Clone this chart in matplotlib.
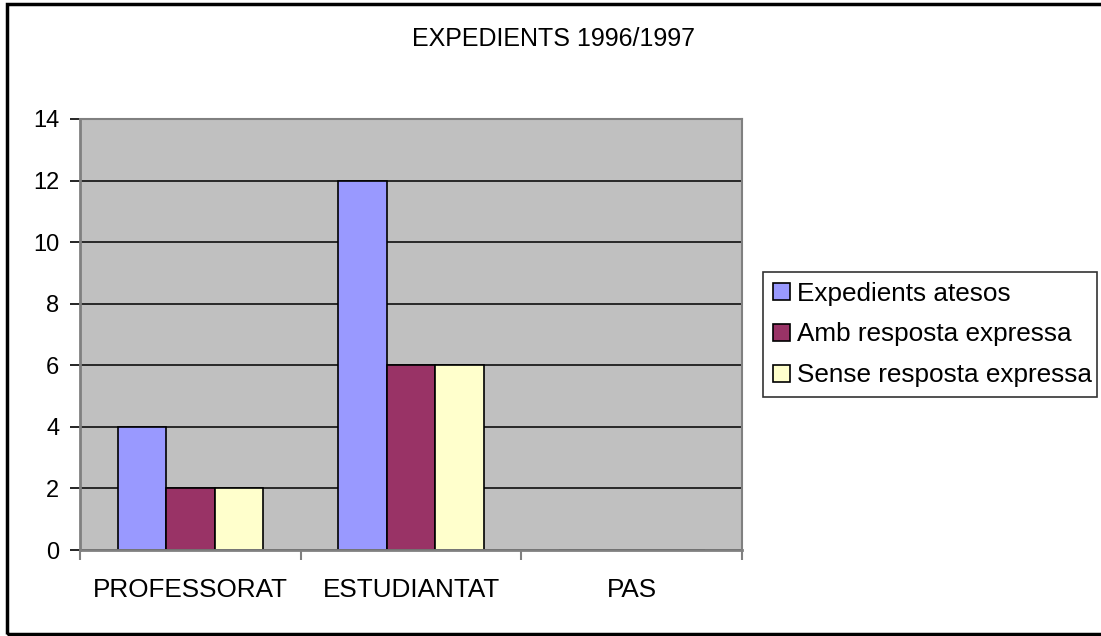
import numpy as np
import matplotlib.pyplot as plt
from matplotlib.patches import Rectangle

# dades del gràfic
categories = ['PROFESSORAT', 'ESTUDIANTAT', 'PAS']
series_names = ['Expedients atesos', 'Amb resposta expressa', 'Sense resposta expressa']
atesos = [4, 12, 0]
amb_resposta = [2, 6, 0]
sense_resposta = [2, 6, 0]
colors = ['#9999FF', '#993366', '#FFFFCC']
title = 'EXPEDIENTS 1996/1997'

plt.rcParams['font.family'] = ['Liberation Sans', 'DejaVu Sans']

fig = plt.figure(figsize=(11.01, 6.36), dpi=100)
ax = fig.add_axes([0.0727, 0.1352, 0.6013, 0.6777])
ax.set_facecolor('#C0C0C0')

x = np.arange(len(categories))
w = 0.22
for i, (vals, name) in enumerate(zip([atesos, amb_resposta, sense_resposta], series_names)):
    ax.bar(x + (i - 1) * w, vals, width=w, color=colors[i], edgecolor='black',
           linewidth=1.2, label=name, zorder=2)

ax.set_xlim(-0.5, 2.5)
ax.set_ylim(0, 14)
ax.set_yticks(np.arange(0, 15, 2))
ax.yaxis.grid(True, color='black', linewidth=1.1, zorder=1)
ax.set_axisbelow(True)

# ticks de categories: marques a les vores, etiquetes al centre
ax.set_xticks([-0.5, 0.5, 1.5, 2.5])
ax.set_xticklabels([])
ax.set_xticks(x, minor=True)
ax.set_xticklabels(categories, minor=True)
ax.tick_params(axis='x', which='major', length=7, width=1.5, color='#808080', direction='out')
ax.tick_params(axis='x', which='minor', length=0, pad=20.5, labelsize=18.8)
ax.tick_params(axis='y', length=7, width=1.2, color='black', pad=8, labelsize=17)

for side in ['left', 'bottom']:
    ax.spines[side].set_color('#808080')
    ax.spines[side].set_linewidth(2)
    ax.spines[side].set_zorder(3)
for side in ['top', 'right']:
    ax.spines[side].set_color('#808080')
    ax.spines[side].set_linewidth(1.5)

fig.text(0.503, 1 - 39 / 636, title, ha='center', va='center', fontsize=18)

leg = ax.legend(loc='center left', bbox_to_anchor=(763 / 1101, 1 - 398 / 636, 334 / 1101, 127 / 636),
                bbox_transform=fig.transFigure, mode='expand', fontsize=18.8, frameon=True,
                fancybox=False, edgecolor='black', handlelength=0.65, handleheight=0.6,
                handletextpad=0.27, labelspacing=0.65, borderpad=0.38, borderaxespad=0)
leg.get_frame().set_linewidth(1.2)
for h in leg.legend_handles:
    h.set_linewidth(1.2)

# marc exterior
fig.patches.append(Rectangle((7 / 1101, 2 / 636), 1.2, 1 - 6 / 636, transform=fig.transFigure,
                             fill=False, edgecolor='black', linewidth=2.5, clip_on=False))

fig.savefig('out.png', dpi=100)
